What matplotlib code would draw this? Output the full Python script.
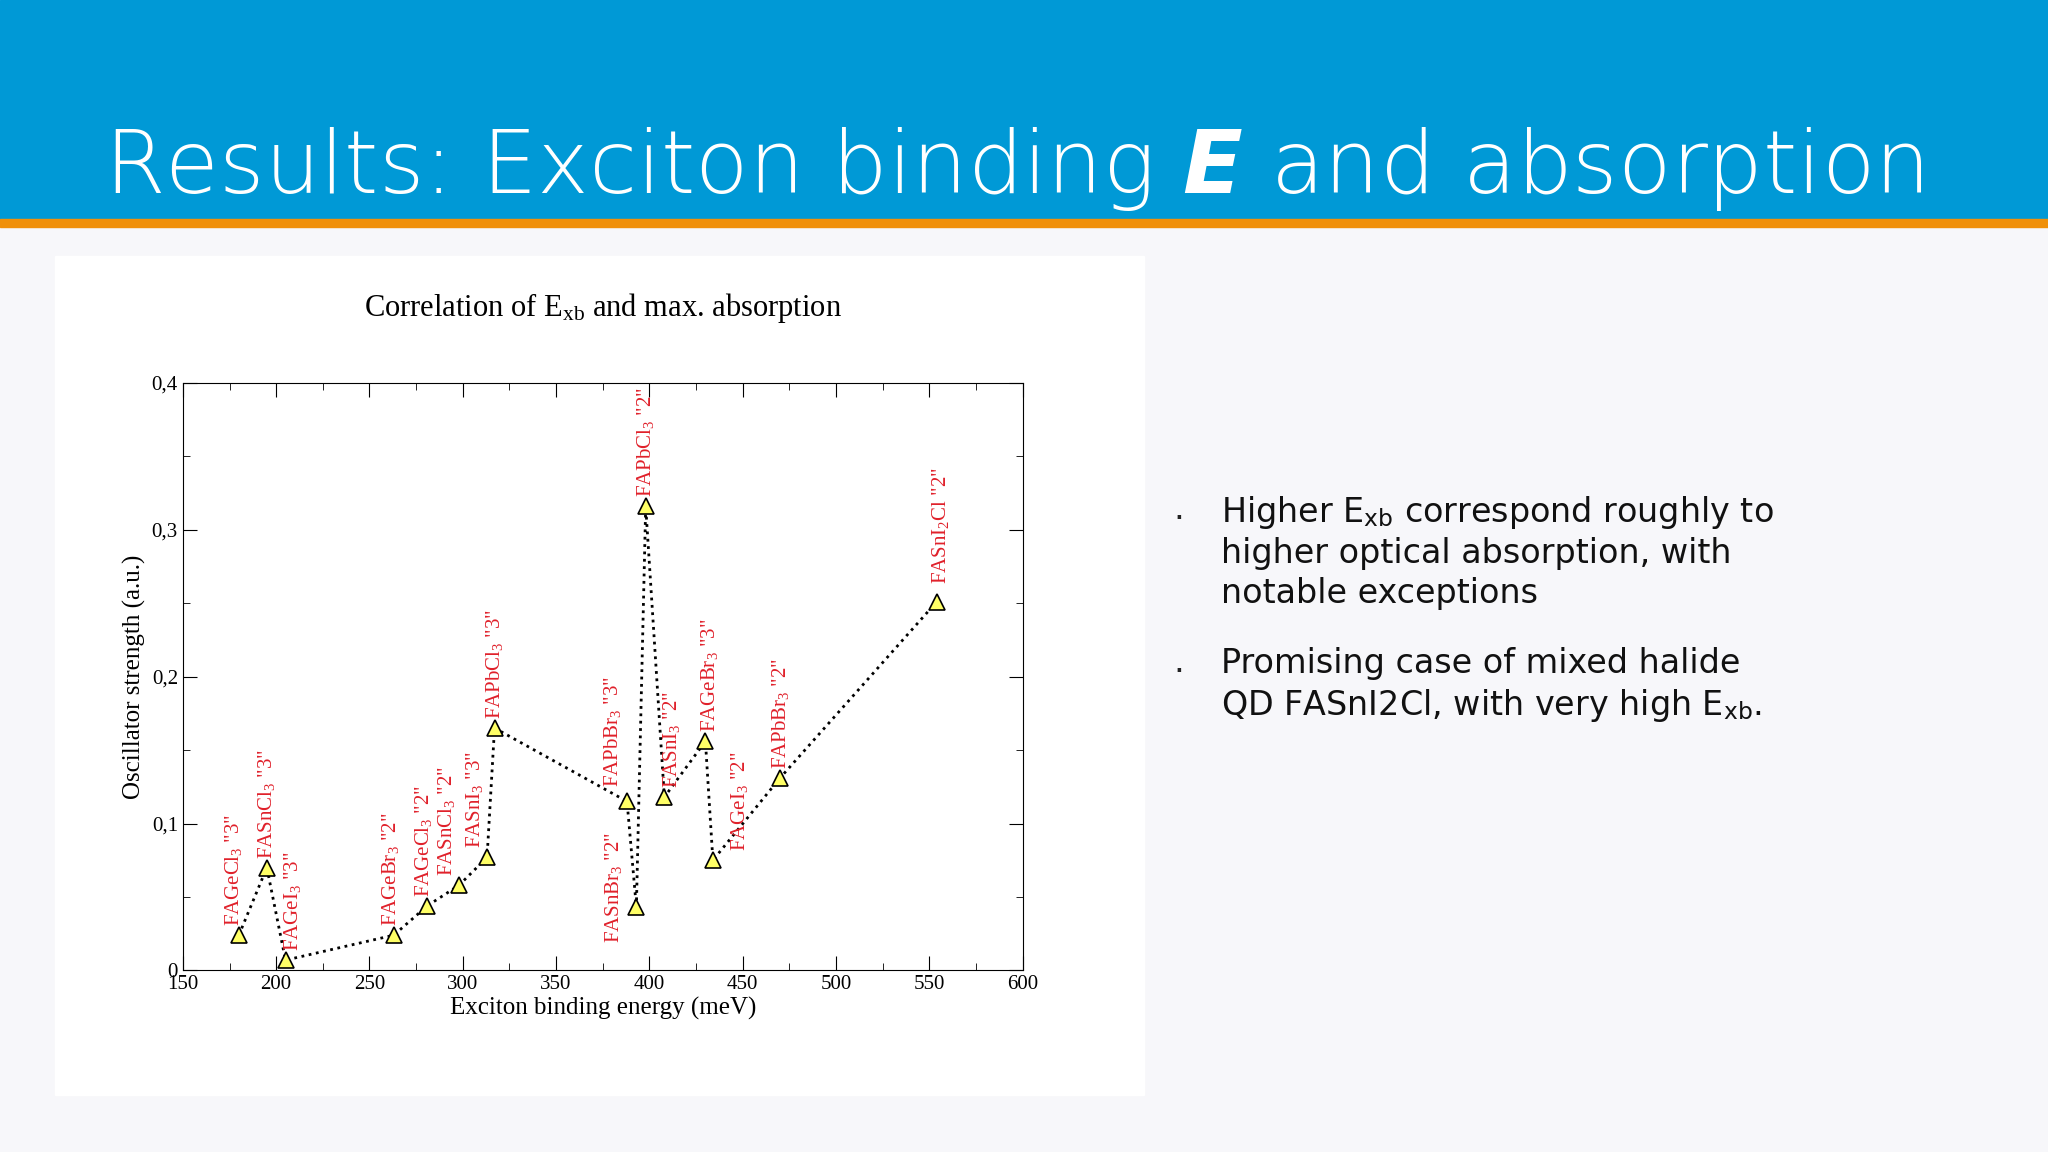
import matplotlib
matplotlib.use("Agg")
import matplotlib.pyplot as plt
from matplotlib.patches import Rectangle
from matplotlib.ticker import MultipleLocator, FuncFormatter

plt.rcParams['mathtext.fontset'] = 'custom'
plt.rcParams['mathtext.rm'] = 'Liberation Serif'
plt.rcParams['mathtext.it'] = 'Liberation Serif:italic'
plt.rcParams['mathtext.sf'] = 'DejaVu Sans'
plt.rcParams['mathtext.bf'] = 'DejaVu Sans:bold:italic'

names = [r'FAGeCl$_3$ "3"', r'FASnCl$_3$ "3"', r'FAGeI$_3$ "3"', r'FAGeBr$_3$ "2"',
         r'FAGeCl$_3$ "2"', r'FASnCl$_3$ "2"', r'FASnI$_3$ "3"', r'FAPbCl$_3$ "3"',
         r'FAPbBr$_3$ "3"', r'FASnBr$_3$ "2"', r'FAPbCl$_3$ "2"', r'FASnI$_3$ "2"',
         r'FAGeBr$_3$ "3"', r'FAGeI$_3$ "2"', r'FAPbBr$_3$ "2"', r'FASnI$_2$Cl "2"']
energy = [180, 195, 205, 263, 281, 298, 313, 317, 388, 393, 398, 408, 430, 434, 470, 554]
strength = [0.024, 0.070, 0.007, 0.024, 0.044, 0.058, 0.077, 0.165, 0.115, 0.043,
            0.316, 0.118, 0.156, 0.075, 0.131, 0.251]
label_dx = [-3, 0, 4, -2, -2, -7, -7, 0, -8, -12, 0, 4, 2, 14, 0, 2]
label_dy = [0.006, 0.006, 0.006, 0.006, 0.006, 0.006, 0.006, 0.006, 0.010, -0.024, 0.006, 0.006, 0.006, 0.006, 0.006, 0.012]

fig = plt.figure(figsize=(20.48, 11.52), dpi=100)
fig.patch.set_facecolor('#f7f7fa')
fig.add_artist(Rectangle((0, 1 - 168/882), 1, 168/882, transform=fig.transFigure, color='#0099d6', zorder=0))
fig.add_artist(Rectangle((0, 1 - 174/882), 1, 6/882, transform=fig.transFigure, color='#f0900a', zorder=0))
fig.text(80/1568, 1 - 148/882, 'Results: Exciton binding $\\mathbf{E}$ and absorption', color='white',
         fontsize=63, family='DejaVu Sans', va='baseline', fontweight='light')
fig.add_artist(Rectangle((42/1568, 1 - 838/882), 834/1568, 642/882, transform=fig.transFigure, color='white', zorder=0))

ax = fig.add_axes([140/1568, 1 - 743/882, 643/1568, 450/882])
ax.plot(energy, strength, ':', color='black', lw=2)
ax.plot(energy, strength, '^', ms=11, mfc='#ffff66', mec='black', mew=1.2, ls='none')
for n, x, y, dx, dy in zip(names, energy, strength, label_dx, label_dy):
    ax.text(x + dx, y + dy, n, rotation=90, color='#e0202a', fontsize=15,
            family='Liberation Serif', ha='center', va='bottom')
ax.set_xlim(150, 600)
ax.set_ylim(0, 0.4)
ax.xaxis.set_major_locator(MultipleLocator(50))
ax.xaxis.set_minor_locator(MultipleLocator(25))
ax.yaxis.set_major_locator(MultipleLocator(0.1))
ax.yaxis.set_minor_locator(MultipleLocator(0.05))
ax.yaxis.set_major_formatter(FuncFormatter(lambda v, p: '0' if abs(v) < 1e-9 else f'{v:.1f}'.replace('.', ',')))
ax.tick_params(which='both', direction='in', top=True, right=True, labelsize=15)
ax.tick_params(which='major', length=10)
ax.tick_params(which='minor', length=5)
for lab in ax.get_xticklabels() + ax.get_yticklabels():
    lab.set_family('Liberation Serif')
ax.set_xlabel('Exciton binding energy (meV)', family='Liberation Serif', fontsize=18, labelpad=2)
ax.set_ylabel('Oscillator strength (a.u.)', family='Liberation Serif', fontsize=18)
ax.set_title('Correlation of E$_{\\rm xb}$ and max. absorption', family='Liberation Serif', fontsize=22, pad=48)

bx, tx = 898/1568, 935/1568
fs = 24
fig.text(bx, 1 - 385/882, '·', fontsize=fs, color='#222222', va='top')
fig.text(tx, 1 - 378/882, 'Higher E$_{\\mathsf{xb}}$ correspond roughly to\nhigher optical absorption, with\nnotable exceptions',
         fontsize=fs, color='#111111', va='top', linespacing=1.25)
fig.text(bx, 1 - 502/882, '·', fontsize=fs, color='#222222', va='top')
fig.text(tx, 1 - 495/882, 'Promising case of mixed halide\nQD FASnI2Cl, with very high E$_{\\mathsf{xb}}$.',
         fontsize=fs, color='#111111', va='top', linespacing=1.25)

fig.savefig('out.png', dpi=100, facecolor=fig.get_facecolor())
